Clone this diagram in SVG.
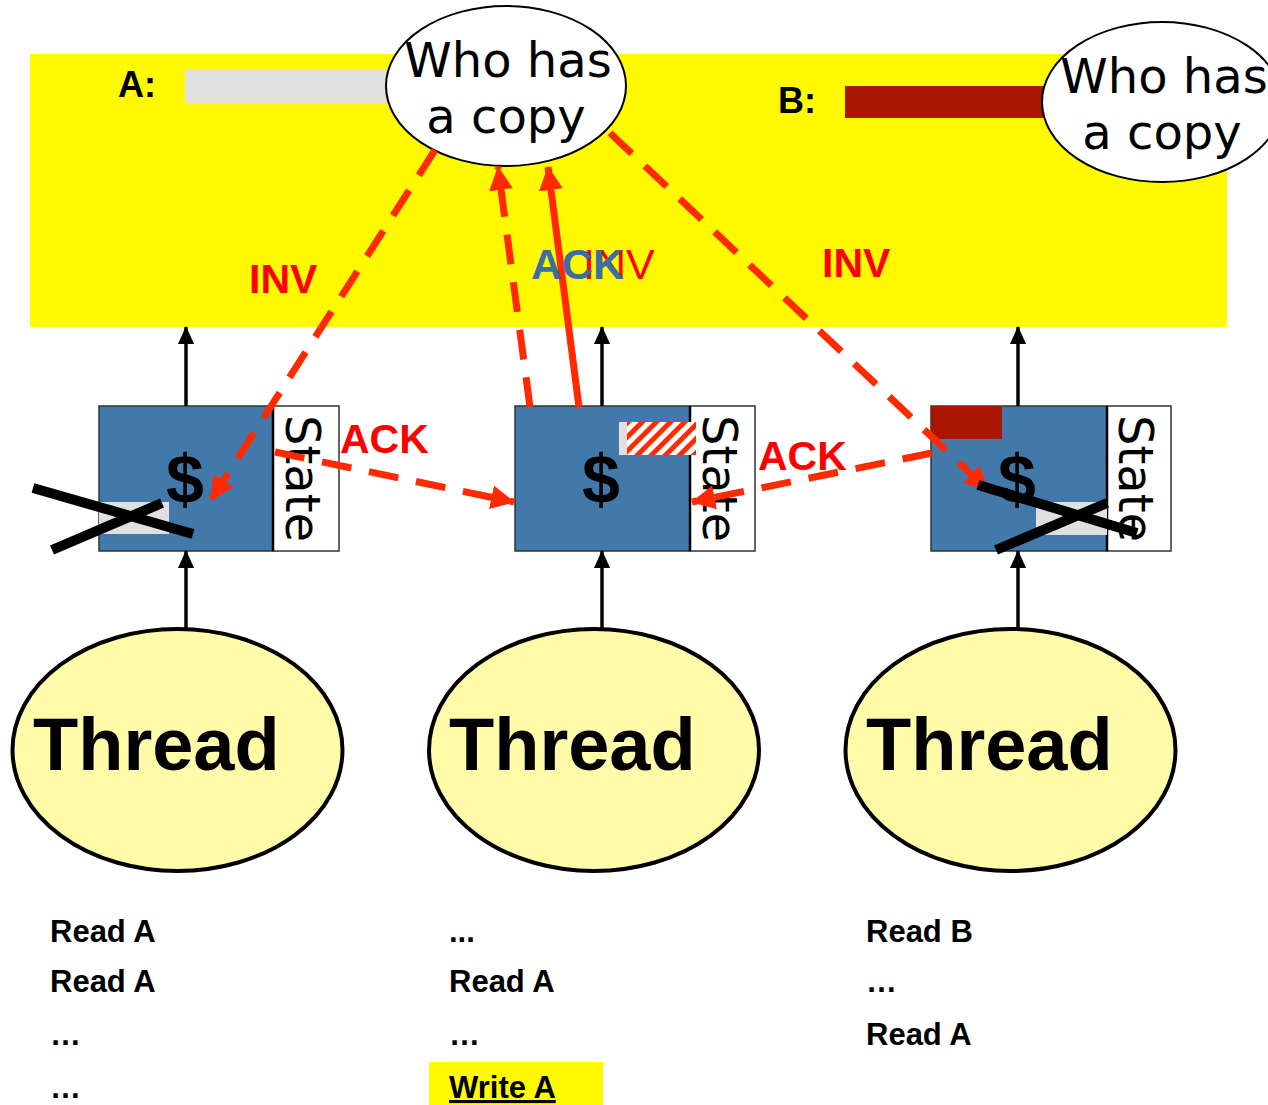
<svg xmlns="http://www.w3.org/2000/svg" width="1268" height="1105" viewBox="0 0 1268 1105">
<style>
.lbl{font-family:"Liberation Sans",Arial,sans-serif;font-weight:bold;}
.who{font-family:"DejaVu Sans",Verdana,sans-serif;font-size:48px;fill:#000;text-anchor:middle;}
.state{font-family:"DejaVu Sans",Verdana,sans-serif;font-size:48px;fill:#000;}
.dollar{font-family:"Liberation Sans",Arial,sans-serif;font-weight:bold;font-size:68px;fill:#000;text-anchor:middle;}
.thread{font-family:"Liberation Sans",Arial,sans-serif;font-weight:bold;font-size:74px;fill:#000;}
.code{font-family:"Liberation Sans",Arial,sans-serif;font-weight:bold;font-size:31px;fill:#000;}
.cache{fill:#4279AA;stroke:#333;stroke-width:1.5;}
.stbox{fill:#fff;stroke:#333;stroke-width:1.5;}
.div{stroke:#000;stroke-width:2.5;}
.tellipse{fill:#FFFBA8;stroke:#000;stroke-width:4;}
.blk{stroke:#000;stroke-width:3.5;fill:none;marker-end:url(#ab);}
.red{stroke:#FF2A00;stroke-width:7;fill:none;marker-end:url(#ar);}
.dash{stroke-dasharray:30 18;}
.xmark{stroke:#000;stroke-width:10;}
</style>
<defs>
<marker id="ab" markerUnits="userSpaceOnUse" markerWidth="18" markerHeight="18" refX="17" refY="8" orient="auto" viewBox="0 0 18 16">
<path d="M0,0 L18,8 L0,16 Z" fill="#000"/>
</marker>
<marker id="ar" markerUnits="userSpaceOnUse" markerWidth="24" markerHeight="24" refX="23" refY="12" orient="auto" viewBox="0 0 24 24">
<path d="M0,0 L24,12 L0,24 Z" fill="#FF2A00"/>
</marker>
<pattern id="hatch" patternUnits="userSpaceOnUse" width="10" height="10" patternTransform="rotate(45)">
<rect width="10" height="10" fill="#fff"/>
<rect width="5" height="10" fill="#FF2A00"/>
</pattern>
</defs>

<g id="memory">
<rect x="30" y="54" width="1197" height="273" fill="#FFFA00"/>
<text class="lbl" x="118" y="97" font-size="36">A:</text>
<rect x="185" y="70" width="210" height="33" fill="#E0E0E0"/>
<text class="lbl" x="778" y="113" font-size="36">B:</text>
<rect x="845" y="86" width="205" height="32" fill="#AA1500"/>
</g>

<g id="dirA">
<ellipse cx="506" cy="86" rx="120" ry="80" fill="#fff" stroke="#000" stroke-width="2"/>
<text class="who" x="508" y="77">Who has</text>
<text class="who" x="506" y="133">a copy</text>
</g>
<g id="dirB">
<ellipse cx="1162" cy="102" rx="120" ry="80" fill="#fff" stroke="#000" stroke-width="2"/>
<text class="who" x="1164" y="93">Who has</text>
<text class="who" x="1162" y="149">a copy</text>
</g>

<g id="cache1">
<rect class="cache" x="99" y="406" width="174" height="145"/>
<rect class="stbox" x="273" y="406" width="66" height="145"/>
<line class="div" x1="273" y1="406" x2="273" y2="551"/>
<rect x="99" y="502" width="70" height="32" fill="#E0E0E0"/>
<text class="dollar" x="185" y="503">$</text>
<text class="state" transform="translate(286,415) rotate(90)">State</text>
</g>
<g id="cache2">
<rect class="cache" x="515" y="406" width="175" height="145"/>
<rect class="stbox" x="690" y="406" width="65" height="145"/>
<line class="div" x1="690" y1="406" x2="690" y2="551"/>
<rect x="619" y="422" width="8" height="33" fill="#E0E0E0"/>
<rect x="627" y="422" width="69" height="33" fill="url(#hatch)"/>
<text class="dollar" x="601" y="503">$</text>
<text class="state" transform="translate(703,415) rotate(90)">State</text>
</g>
<g id="cache3">
<rect class="cache" x="931" y="406" width="176" height="145"/>
<rect class="stbox" x="1107" y="406" width="64" height="145"/>
<line class="div" x1="1107" y1="406" x2="1107" y2="551"/>
<rect x="931" y="406" width="71" height="33" fill="#AA1500"/>
<rect x="1036" y="502" width="71" height="33" fill="#E0E0E0"/>
<text class="dollar" x="1017" y="503">$</text>
<text class="state" transform="translate(1119,415) rotate(90)">State</text>
</g>

<g id="thread1">
<ellipse class="tellipse" cx="177.5" cy="750" rx="165" ry="121"/>
<text class="thread" x="33" y="770">Thread</text>
</g>
<g id="thread2">
<ellipse class="tellipse" cx="594" cy="750" rx="165" ry="121"/>
<text class="thread" x="449" y="770">Thread</text>
</g>
<g id="thread3">
<ellipse class="tellipse" cx="1010.5" cy="750" rx="165" ry="121"/>
<text class="thread" x="866" y="770">Thread</text>
</g>

<g id="connectors">
<line class="blk" x1="186" y1="406" x2="186" y2="327"/>
<line class="blk" x1="602" y1="406" x2="602" y2="327"/>
<line class="blk" x1="1018" y1="406" x2="1018" y2="327"/>
<line class="blk" x1="186" y1="628" x2="186" y2="551"/>
<line class="blk" x1="602" y1="628" x2="602" y2="551"/>
<line class="blk" x1="1018" y1="628" x2="1018" y2="551"/>
<line class="red dash" x1="435" y1="150" x2="211" y2="500"/>
<line class="red dash" x1="275" y1="452" x2="514" y2="502"/>
<line class="red dash" x1="932" y1="453" x2="692" y2="502"/>
<line class="red dash" x1="530" y1="407" x2="498" y2="167"/>
<line class="red" stroke-width="6" x1="579" y1="407" x2="548" y2="167"/>
<line class="red dash" x1="610" y1="133" x2="988" y2="490"/>
</g>

<g id="labels">
<text class="lbl" x="249" y="293" font-size="41" fill="#FF0000">INV</text>
<text class="lbl" x="822" y="277" font-size="41" fill="#FF0000">INV</text>
<text x="583" y="279" font-family="Liberation Sans, Arial, sans-serif" font-size="43" fill="#FF0000">INV</text>
<text class="lbl" x="531" y="279" font-size="43" fill="#3B6EA5">ACK</text>
<text class="lbl" x="340" y="453" font-size="41" fill="#FF0000">ACK</text>
<text class="lbl" x="758" y="470" font-size="41" fill="#FF0000">ACK</text>
</g>

<g id="invalidated">
<line class="xmark" x1="33" y1="488" x2="193" y2="534"/>
<line class="xmark" x1="52" y1="550" x2="162" y2="503"/>
<line class="xmark" x1="978" y1="485" x2="1137" y2="533"/>
<line class="xmark" x1="996" y1="550" x2="1107" y2="503"/>
</g>

<g id="code">
<text class="code" x="50" y="942">Read A</text>
<text class="code" x="50" y="992">Read A</text>
<text class="code" x="50" y="1045">…</text>
<text class="code" x="50" y="1098">…</text>
<rect x="429" y="1062" width="174" height="43" fill="#FFFA00"/>
<text class="code" x="449" y="942">...</text>
<text class="code" x="449" y="992">Read A</text>
<text class="code" x="449" y="1045">…</text>
<text class="code" x="449" y="1098" text-decoration="underline">Write A</text>
<text class="code" x="866" y="942">Read B</text>
<text class="code" x="866" y="992">…</text>
<text class="code" x="866" y="1045">Read A</text>
</g>
</svg>
